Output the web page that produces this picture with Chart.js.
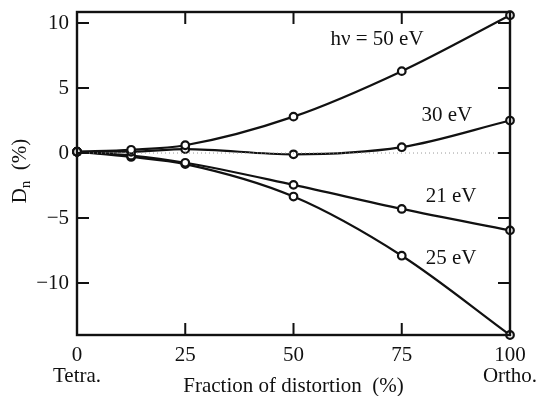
<!DOCTYPE html>
<html>
<head>
<meta charset="utf-8">
<script src="https://cdn.jsdelivr.net/npm/chart.js@4/dist/chart.umd.min.js"></script>
<style>
  html, body { margin: 0; padding: 0; background: #fff; }
  canvas { display: block; }
</style>
</head>
<body>
<canvas id="chart" width="539" height="396"></canvas>
<script>
// fraction of distortion (%)
const xValues = [0, 12.5, 25, 50, 75, 100];
const xTicks = [0, 25, 50, 75, 100];
const yTicks = [-10, -5, 0, 5, 10];

// D_n (%) for each photon energy
const d50 = [0.1, 0.25, 0.6, 2.8, 6.3, 10.6];
const d30 = [0.1, 0.1, 0.3, -0.1, 0.45, 2.5];
const d21 = [0.1, -0.2, -0.75, -2.45, -4.3, -5.95];
const d25 = [0.1, -0.3, -0.85, -3.35, -7.9, -14.0];

const seriesLabels = ['hν = 50 eV', '30 eV', '21 eV', '25 eV'];
const labelPos = [[69.3, 8.7], [85.4, 2.9], [86.4, -3.35], [86.4, -8.1]];

const serif = '"Liberation Serif", "DejaVu Serif", serif';

function pts(ys) {
  return xValues.map((x, i) => ({ x: x, y: ys[i] }));
}

function series(ys) {
  return {
    data: pts(ys),
    borderColor: '#111',
    borderWidth: 2.2,
    pointRadius: 3.8,
    pointBorderWidth: 2.2,
    pointBorderColor: '#111',
    pointBackgroundColor: '#fff',
    cubicInterpolationMode: 'monotone',
    clip: false
  };
}

const decorations = {
  id: 'decorations',
  afterDraw(chart) {
    const ctx = chart.ctx;
    const a = chart.chartArea;
    const xs = chart.scales.x;
    const ys = chart.scales.y;
    ctx.save();

    // frame
    ctx.strokeStyle = '#111';
    ctx.lineWidth = 2.4;
    ctx.strokeRect(a.left, a.top, a.right - a.left, a.bottom - a.top);

    // inward ticks on all sides
    ctx.lineWidth = 2;
    const len = 12;
    ctx.beginPath();
    xTicks.forEach(v => {
      if (v === xs.min || v === xs.max) return;
      const px = xs.getPixelForValue(v);
      ctx.moveTo(px, a.bottom); ctx.lineTo(px, a.bottom - len);
      ctx.moveTo(px, a.top); ctx.lineTo(px, a.top + len);
    });
    yTicks.forEach(v => {
      const py = ys.getPixelForValue(v);
      ctx.moveTo(a.left, py); ctx.lineTo(a.left + len, py);
      ctx.moveTo(a.right, py); ctx.lineTo(a.right - len, py);
    });
    ctx.stroke();

    // series labels
    ctx.fillStyle = '#111';
    ctx.font = '21px ' + serif;
    ctx.textAlign = 'center';
    ctx.textBaseline = 'middle';
    seriesLabels.forEach((t, i) => {
      ctx.fillText(t, xs.getPixelForValue(labelPos[i][0]), ys.getPixelForValue(labelPos[i][1]));
    });

    // end labels under the x axis
    ctx.fillText('Tetra.', xs.getPixelForValue(0), 376);
    ctx.fillText('Ortho.', xs.getPixelForValue(100), 376);

    // x axis title
    ctx.fillText('Fraction of distortion  (%)', xs.getPixelForValue(50), 386);

    // y axis title D_n (%)
    ctx.translate(20, 171);
    ctx.rotate(-Math.PI / 2);
    ctx.textAlign = 'left';
    const big = '21px ' + serif;
    const small = '15px ' + serif;
    ctx.font = big;
    const wD = ctx.measureText('D').width;
    ctx.font = small;
    const wn = ctx.measureText('n').width;
    ctx.font = big;
    const wRest = ctx.measureText('  (%)').width;
    let x0 = -(wD + wn + wRest) / 2;
    ctx.fillText('D', x0, 0);
    ctx.font = small;
    ctx.fillText('n', x0 + wD, 6);
    ctx.font = big;
    ctx.fillText('  (%)', x0 + wD + wn, 0);

    ctx.restore();
  }
};

new Chart(document.getElementById('chart'), {
  type: 'line',
  data: {
    datasets: [
      {
        data: [{ x: 0, y: 0 }, { x: 100, y: 0 }],
        borderColor: '#999',
        borderWidth: 1,
        borderDash: [1, 3],
        pointRadius: 0
      },
      series(d50),
      series(d30),
      series(d21),
      series(d25)
    ]
  },
  options: {
    responsive: false,
    animation: false,
    devicePixelRatio: 1,
    layout: { padding: { left: 0, right: 29, top: 12, bottom: 0 } },
    plugins: {
      legend: { display: false },
      tooltip: { enabled: false }
    },
    scales: {
      x: {
        type: 'linear',
        min: 0,
        max: 100,
        afterBuildTicks: s => { s.ticks = xTicks.map(v => ({ value: v })); },
        afterFit: s => { s.height = 61; s.paddingLeft = 0; s.paddingRight = 0; },
        grid: { display: false, drawTicks: false },
        border: { display: false },
        ticks: {
          color: '#111',
          padding: 8,
          maxRotation: 0,
          font: { family: serif, size: 21 }
        }
      },
      y: {
        type: 'linear',
        min: -14,
        max: 10.85,
        afterBuildTicks: s => { s.ticks = yTicks.map(v => ({ value: v })); },
        afterFit: s => { s.width = 77; s.paddingTop = 0; s.paddingBottom = 0; },
        grid: { display: false, drawTicks: false },
        border: { display: false },
        ticks: {
          color: '#111',
          padding: 8,
          font: { family: serif, size: 21 },
          callback: v => (v < 0 ? '\u2212' + Math.abs(v) : String(v))
        }
      }
    }
  },
  plugins: [decorations]
});
</script>
</body>
</html>
